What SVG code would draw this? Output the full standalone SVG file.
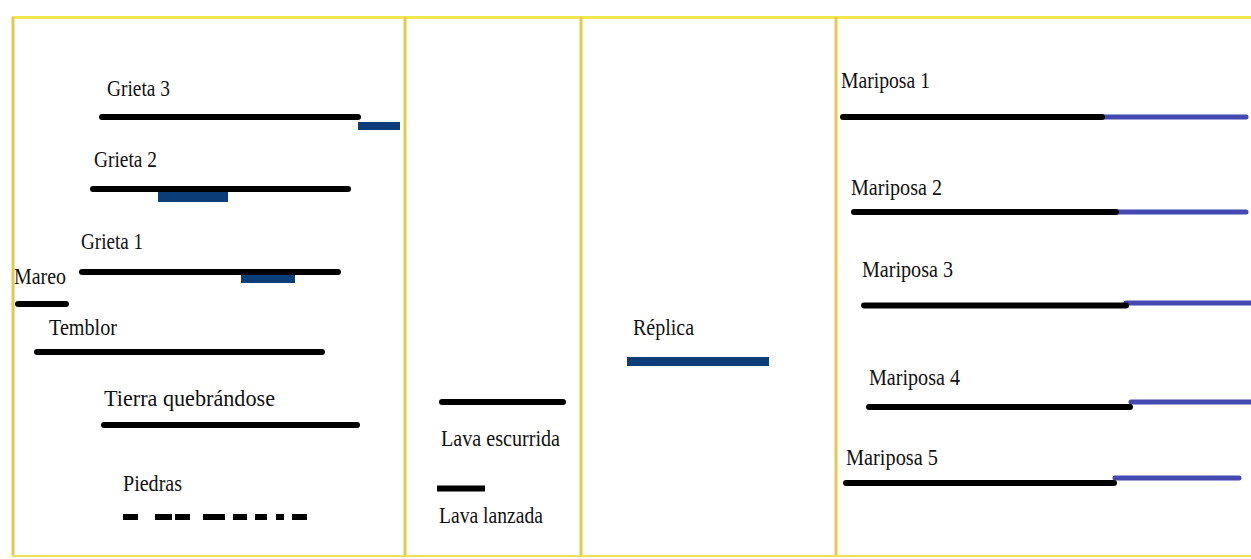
<svg xmlns="http://www.w3.org/2000/svg" width="1251" height="559" viewBox="0 0 1251 559">
  <style>
    .bar { stroke: #000; stroke-width: 6; stroke-linecap: round; fill: none; }
    .sq { stroke-linecap: butt; }
    .navy { fill: #0b3e78; }
    .violet { stroke: #4349b0; stroke-width: 5; stroke-linecap: round; fill: none; }
    .rule { stroke: #e4ca4c; stroke-width: 3; fill: none; }
  </style>
  <rect width="1251" height="559" fill="#ffffff"/>

  <!-- table frame -->
  <g id="frame">
    <line x1="12" y1="17.5" x2="1251" y2="17.5" stroke="#f1e64c" stroke-width="3"/>
    <line class="rule" x1="13" y1="17" x2="13" y2="556"/>
    <line class="rule" x1="405" y1="17" x2="405" y2="556"/>
    <line class="rule" x1="581" y1="17" x2="581" y2="556"/>
    <line class="rule" x1="836" y1="17" x2="836" y2="556"/>
    <line x1="12" y1="556" x2="1251" y2="556" stroke="#efe05a" stroke-width="2"/>
  </g>

  <g id="bars" font-family="Liberation Serif, serif" font-size="24" fill="#111">
  <!-- column 1 -->
  <g id="grieta-3">
    <text x="107" y="96" textLength="63" lengthAdjust="spacingAndGlyphs">Grieta 3</text>
    <line class="bar" x1="102" y1="117" x2="358" y2="117"/>
    <rect class="navy" x="358" y="122" width="42" height="8"/>
  </g>
  <g id="grieta-2">
    <text x="94" y="167" textLength="63" lengthAdjust="spacingAndGlyphs">Grieta 2</text>
    <line class="bar" x1="93" y1="189" x2="348" y2="189"/>
    <rect class="navy" x="158" y="192" width="70" height="10"/>
  </g>
  <g id="grieta-1">
    <text x="81" y="249" textLength="62" lengthAdjust="spacingAndGlyphs">Grieta 1</text>
    <line class="bar" x1="82" y1="272" x2="338" y2="272"/>
    <rect class="navy" x="241" y="275" width="54" height="8"/>
  </g>
  <g id="mareo">
    <text x="14" y="284" textLength="52" lengthAdjust="spacingAndGlyphs">Mareo</text>
    <line class="bar" x1="18" y1="304" x2="66" y2="304"/>
  </g>
  <g id="temblor">
    <text x="49" y="335" textLength="68" lengthAdjust="spacingAndGlyphs">Temblor</text>
    <line class="bar" x1="37" y1="352" x2="322" y2="352"/>
  </g>
  <g id="tierra-quebrandose">
    <text x="104" y="406" textLength="171" lengthAdjust="spacingAndGlyphs">Tierra quebrándose</text>
    <line class="bar" x1="104" y1="425" x2="357" y2="425"/>
  </g>
  <g id="piedras">
    <text x="123" y="491" textLength="59" lengthAdjust="spacingAndGlyphs">Piedras</text>
    <path class="bar sq" stroke-width="7" d="M123 517H138 M155 517H172 M175 517H190 M203 517H225 M233 517H247 M255 517H267 M276 517H284 M292 517H307"/>
  </g>

  <!-- column 2 -->
  <g id="lava-escurrida">
    <line class="bar" x1="442" y1="402" x2="563" y2="402"/>
    <text x="441" y="446" textLength="119" lengthAdjust="spacingAndGlyphs">Lava escurrida</text>
  </g>
  <g id="lava-lanzada">
    <line class="bar sq" x1="437" y1="488.5" x2="485" y2="488.5" stroke-width="7"/>
    <text x="439" y="523" textLength="104" lengthAdjust="spacingAndGlyphs">Lava lanzada</text>
  </g>

  <!-- column 3 -->
  <g id="replica">
    <text x="633" y="335" textLength="61" lengthAdjust="spacingAndGlyphs">Réplica</text>
    <rect class="navy" x="627" y="357" width="142" height="9"/>
  </g>

  <!-- column 4 -->
  <g id="mariposa-1">
    <text x="841" y="88" textLength="89" lengthAdjust="spacingAndGlyphs">Mariposa 1</text>
    <line class="violet" x1="1102" y1="117" x2="1246" y2="117"/>
    <line class="bar" x1="843" y1="117" x2="1102" y2="117" stroke-linecap="butt"/>
  </g>
  <g id="mariposa-2">
    <text x="851" y="195" textLength="91" lengthAdjust="spacingAndGlyphs">Mariposa 2</text>
    <line class="violet" x1="1116" y1="212" x2="1246" y2="212"/>
    <line class="bar" x1="854" y1="212" x2="1116" y2="212"/>
  </g>
  <g id="mariposa-3">
    <text x="862" y="277" textLength="91" lengthAdjust="spacingAndGlyphs">Mariposa 3</text>
    <line class="violet" x1="1126" y1="303" x2="1253" y2="303"/>
    <line class="bar" x1="864" y1="305.5" x2="1126" y2="305.5"/>
  </g>
  <g id="mariposa-4">
    <text x="869" y="385" textLength="91" lengthAdjust="spacingAndGlyphs">Mariposa 4</text>
    <line class="violet" x1="1131" y1="402" x2="1253" y2="402"/>
    <line class="bar" x1="869" y1="407" x2="1130" y2="407"/>
  </g>
  <g id="mariposa-5">
    <text x="846" y="465" textLength="92" lengthAdjust="spacingAndGlyphs">Mariposa 5</text>
    <line class="violet" x1="1115" y1="478" x2="1239" y2="478"/>
    <line class="bar" x1="846" y1="483" x2="1114" y2="483"/>
  </g>
  </g>
</svg>
